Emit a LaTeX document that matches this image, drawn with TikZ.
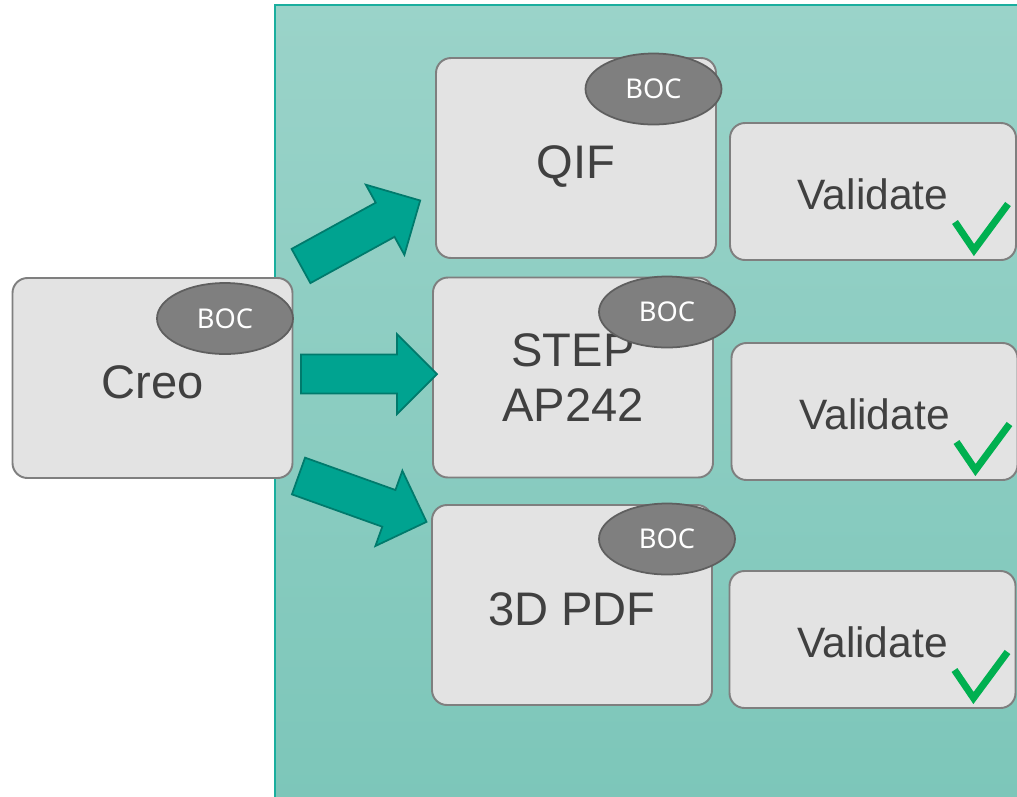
\documentclass[tikz,border=0pt]{standalone}
\usepackage{fontspec}
\setmainfont{Liberation Sans}
\newfontfamily\bocfont{Noto Sans}
\usetikzlibrary{shapes.geometric,calc}

\definecolor{paneltop}{HTML}{9AD3C9}
\definecolor{panelbottom}{HTML}{7CC6B9}
\definecolor{panelline}{HTML}{1AAE9E}
\definecolor{boxfill}{HTML}{E3E3E3}
\definecolor{boxline}{HTML}{7F7F7F}
\definecolor{textgray}{HTML}{404040}
\definecolor{bocfill}{HTML}{7F7F7F}
\definecolor{bocline}{HTML}{5F5F5F}
\definecolor{arrowfill}{HTML}{00A390}
\definecolor{arrowline}{HTML}{007A6C}
\definecolor{tickgreen}{HTML}{00B050}

\begin{document}
\begin{tikzpicture}[
    every node/.style={outer sep=0pt},
    panel/.style={draw=panelline, line width=0.6pt, top color=paneltop, bottom color=panelbottom, anchor=north west, minimum width=15cm, minimum height=16.2cm},
    box/.style={draw=boxline, fill=boxfill, line width=1.1pt, rounded corners=0.3cm, minimum width=5.6cm, minimum height=4cm, text=textgray, align=center, font=\fontsize{26.8}{31.7}\selectfont},
    oneline/.style={text height=26.8pt, text depth=4pt},
    valbox/.style={box, text height=24.2pt, text depth=3.6pt, minimum width=5.72cm, minimum height=2.74cm, font=\fontsize{24.2}{28}\selectfont},
    boc/.style={ellipse, draw=bocline, fill=bocfill, line width=1pt, minimum width=2.72cm, minimum height=1.42cm, inner sep=0pt, text=white, font=\bocfont\fontsize{15.5}{18}\selectfont},
    tick/.style={draw=tickgreen, line width=4pt},
    bigarrow/.pic={\draw[draw=arrowline, fill=arrowfill, line width=1pt] (0,-0.39) -- (1.92,-0.39) -- (1.92,-0.8) -- (2.72,0) -- (1.92,0.8) -- (1.92,0.39) -- (0,0.39) -- cycle;}]
            \useasboundingbox (0,0) rectangle (20.34,-15.92);
            \node[panel] (panel) at (5.5,-0.1) {};
            \node[box, oneline] (creo) at (3.05,-7.56) {Creo};
            \node[boc] (creoboc) at (4.5,-6.37) {BOC};
            \node[box, oneline] (qif) at (11.52,-3.16) {QIF};
            \node[boc] (qifboc) at (13.07,-1.78) {BOC};
            \node[box] (step) at (11.46,-7.55) {STEP\\AP242};
            \node[boc] (stepboc) at (13.34,-6.24) {BOC};
            \node[box, oneline] (pdf) at (11.44,-12.1) {3D PDF};
            \node[boc] (pdfboc) at (13.34,-10.78) {BOC};
            \node[valbox] (valqif) at (17.46,-3.83) {Validate};
            \node[valbox] (valstep) at (17.49,-8.23) {Validate};
            \node[valbox] (valpdf) at (17.45,-12.79) {Validate};
            \coordinate (toqif) at (6.02,-5.32);
            \coordinate (tostep) at (6.02,-7.48);
            \coordinate (topdf) at (5.97,-9.52);
            \pic[rotate=28.8] at (toqif) {bigarrow};
            \pic at (tostep) {bigarrow};
            \pic[rotate=-19.7] at (topdf) {bigarrow};
            \draw[tick] ($(valqif.south east)+(-1.22,0.76)$) -- ++(0.38,-0.56) -- ++(0.68,0.92);
            \draw[tick] ($(valstep.south east)+(-1.22,0.76)$) -- ++(0.38,-0.56) -- ++(0.68,0.92);
            \draw[tick] ($(valpdf.south east)+(-1.22,0.76)$) -- ++(0.38,-0.56) -- ++(0.68,0.92);
        \end{tikzpicture}
\end{document}
